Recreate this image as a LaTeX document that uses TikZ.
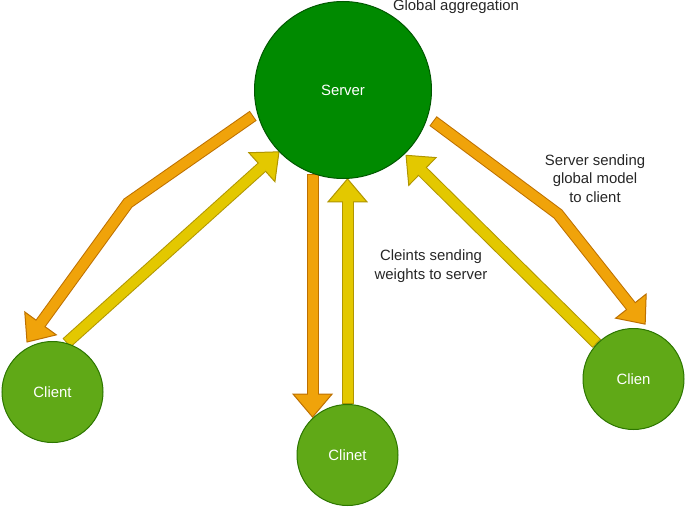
\documentclass[tikz,border=0pt]{standalone}
\usepackage{fontspec}
\setmainfont{Liberation Sans}
\usetikzlibrary{calc,backgrounds}
\definecolor{orfill}{HTML}{F0A30A}
\definecolor{orstroke}{HTML}{BD7000}
\definecolor{yefill}{HTML}{E3C800}
\definecolor{yestroke}{HTML}{B09500}
\definecolor{svfill}{HTML}{008A00}
\definecolor{svstroke}{HTML}{005700}
\definecolor{clfill}{HTML}{60A917}
\definecolor{clstroke}{HTML}{2D7600}
\tikzset{
  txt/.style={font=\fontsize{14.9}{18.5}\selectfont, text=black!85, align=center, inner sep=0pt},
  servernode/.style={circle, minimum size=177pt, inner sep=0pt, fill=svfill, draw=svstroke, line width=1pt, text=white, font=\fontsize{14.9}{18}\selectfont},
  clientnode/.style={circle, minimum size=101pt, inner sep=0pt, fill=clfill, draw=clstroke, line width=1pt, text=white, font=\fontsize{14.9}{18}\selectfont},
}
% #1 colour prefix, #2 path up to the last point before the head, #3 name of that point, #4 tip
\newcommand{\flexarrow}[4]{%
  \coordinate (fh) at ($(#4)!23pt!(#3)$);
  \coordinate (fl) at ($(fh)!19.5pt!90:(#4)$);
  \coordinate (fr) at ($(fh)!19.5pt!-90:(#4)$);
  \draw[line width=12pt, #1stroke, line join=miter] #2 -- (fh);
  \filldraw[fill=#1fill, draw=#1stroke, line width=1pt, line join=miter] (fl) -- (#4) -- (fr) -- cycle;
  \draw[line width=10pt, #1fill, line join=miter, shorten <=1pt] #2 -- ($(fh)!1.5pt!(#4)$);
}
\begin{document}
\begin{tikzpicture}[x=1pt, y=-1pt]
\useasboundingbox (0,0) rectangle (685,508);

\node[servernode] (server) at (343,90) {Server};
\node[clientnode] (c1) at (52.5,392) {Client};
\node[clientnode] (c2) at (347.5,455) {Clinet};
\node[clientnode] (c3) at (633.5,379) {Clien};

\begin{pgfonlayer}{background}
% left pair
\coordinate (a1s) at ($(server.center)!1.05!(server.196)$);
\coordinate (a1b) at (128,203);
\coordinate (a1t) at ($(c1.center)!1.1!(c1.117.5)$);
\flexarrow{or}{(a1s) -- (a1b)}{a1b}{a1t}

\coordinate (a2s) at (c1.74.4);
\coordinate (a2t) at (server.224.1);
\flexarrow{ye}{(a2s)}{a2s}{a2t}

% centre pair
\coordinate (a3s) at (server.250.6);
\coordinate (a3t) at (a3s |- c2.132.6);
\flexarrow{or}{(a3s)}{a3s}{a3t}

\coordinate (a4s) at (c2.north);
\coordinate (a4t) at (a4s |- server.273);
\flexarrow{ye}{(a4s)}{a4s}{a4t}

% right pair
\coordinate (a5s) at (c3.136.6);
\coordinate (a5t) at ($(server.center)!1.02!(server.314.6)$);
\flexarrow{ye}{(a5s)}{a5s}{a5t}

\coordinate (a6s) at ($(server.center)!1.07!(server.341.6)$);
\coordinate (a6b) at (558,214);
\coordinate (a6t) at ($(c3.center)!1.1!(c3.78.7)$);
\flexarrow{or}{(a6s) -- (a6b)}{a6b}{a6t}
\end{pgfonlayer}

\node[txt] (lglob) at (456,7) {Global aggregation};
\node[txt] (lsend) at (595,178.5) {Server sending\\global model\\to client};
\node[txt] (lweights) at (431,266) {Cleints sending\\weights to server};
\end{tikzpicture}
\end{document}
